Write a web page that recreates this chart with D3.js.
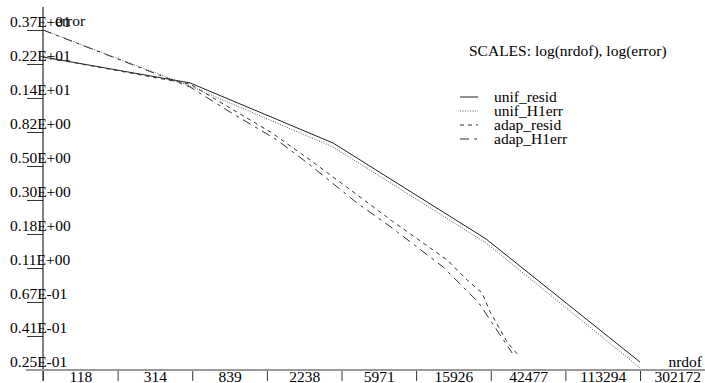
<!DOCTYPE html>
<html lang="en">
<meta charset="utf-8">
<title>log(nrdof) vs log(error)</title>
<style>
  body { margin: 0; background: #fff; }
</style>
<body>
<div id="chart"></div>
<script src="https://cdn.jsdelivr.net/npm/d3@7"></script>
<script>
// x tick labels (nrdof) and y tick labels (error), as printed
var xLabels = ["118", "314", "839", "2238", "5971", "15926", "42477", "113294", "302172"];
var yLabels = ["0.37E+01", "0.22E+01", "0.14E+01", "0.82E+00", "0.50E+00", "0.30E+00",
               "0.18E+00", "0.11E+00", "0.67E-01", "0.41E-01", "0.25E-01"];

// uniform refinements
var unifDof   = [118, 815, 5344, 39950, 302172];
var unifResid = [2.49, 1.70, 0.703, 0.1715, 0.0281];
var unifH1err = [3.70, 1.625, 0.663, 0.1617, 0.0258];

// adaptive refinements
var adapResidDof = [118, 815, 1380, 2397, 3950, 7623, 11612, 23930, 31140, 37920, 42130, 52680, 60870];
var adapResid    = [2.49, 1.673, 1.176, 0.814, 0.5476, 0.318, 0.2234, 0.126, 0.0939, 0.0775, 0.0587, 0.0377, 0.0312];
var adapH1Dof    = [118, 815, 1380, 2560, 3950, 7328, 11612, 22700, 29540, 35980, 41040, 46800, 56260];
var adapH1err    = [3.70, 1.601, 1.108, 0.7346, 0.5088, 0.2911, 0.2016, 0.1137, 0.0847, 0.0679, 0.0545, 0.0437, 0.0321];

var series = [
  { name: "unif_resid", dof: unifDof, err: unifResid, dash: null, color: "#222" },
  { name: "unif_H1err", dof: unifDof, err: unifH1err, dash: "1,1.5", color: "#555" },
  { name: "adap_resid", dof: adapResidDof, err: adapResid, dash: "4,4", color: "#333" },
  { name: "adap_H1err", dof: adapH1Dof, err: adapH1err, dash: "9,5,3,5", color: "#333" }
];

var FONT = "'Liberation Serif', 'Times New Roman', Times, 'DejaVu Serif', serif";
var FS = 15.5;
var W = 705, H = 383;
var svg = d3.select("#chart").append("svg").attr("width", W).attr("height", H)
  .style("font-family", FONT).style("font-size", FS + "px");

var xMin = +xLabels[0], xMax = +xLabels[xLabels.length - 1];
var yMax = 3.7, yMin = 0.025;
var x = d3.scaleLog().domain([xMin, xMax]).range([43, 640]);
var y = d3.scaleLog().domain([yMin, yMax]).range([370, 30]);

// evenly spaced (in log) tick positions, one per printed label
var xTicks = xLabels.map(function(d, i) { return xMin * Math.pow(xMax / xMin, i / (xLabels.length - 1)); });
var yTicks = yLabels.map(function(d, i) { return yMax * Math.pow(yMin / yMax, i / (yLabels.length - 1)); });

// y axis
var yAxis = svg.append("g").attr("transform", "translate(43,0)")
  .call(d3.axisLeft(y).tickValues(yTicks).tickSize(16).tickFormat(function(d, i) { return yLabels[i]; }));
yAxis.attr("font-family", FONT).attr("font-size", FS);
yAxis.select(".domain").remove();
yAxis.selectAll(".tick line").attr("stroke", "#333");
yAxis.selectAll(".tick text").attr("x", -33).attr("dy", -4).attr("text-anchor", "start").attr("fill", "#000");
svg.append("line").attr("x1", 43).attr("x2", 43).attr("y1", 7).attr("y2", 381).attr("stroke", "#000");

// x axis
var xAxis = svg.append("g").attr("transform", "translate(0,370)")
  .call(d3.axisBottom(x).tickValues(xTicks).tickSize(11).tickFormat(function(d, i) { return xLabels[i]; }));
xAxis.attr("font-family", FONT).attr("font-size", FS);
xAxis.select(".domain").remove();
xAxis.selectAll(".tick line").attr("stroke", "#333");
xAxis.selectAll(".tick text").attr("y", 0).attr("dy", 11.5).attr("fill", "#000")
  .attr("x", function(d, i) {
    var x0 = x(d), x1 = i < xTicks.length - 1 ? x(xTicks[i + 1]) : x0 + (x(xTicks[1]) - x(xTicks[0]));
    return (x0 + x1) / 2 - x0;
  });
svg.append("line").attr("x1", 26).attr("x2", W).attr("y1", 370).attr("y2", 370)
  .attr("stroke", "#999").attr("stroke-width", 2);

// axis titles
svg.append("text").attr("x", 55).attr("y", 26).text("error");
svg.append("text").attr("x", 702).attr("y", 367).attr("text-anchor", "end").text("nrdof");
svg.append("text").attr("x", 469).attr("y", 56).text("SCALES: log(nrdof), log(error)");

// curves
var line = d3.line().x(function(d) { return x(d[0]); }).y(function(d) { return y(d[1]); });
series.forEach(function(s) {
  svg.append("path")
    .datum(d3.zip(s.dof, s.err))
    .attr("d", line)
    .attr("fill", "none")
    .attr("stroke", s.color)
    .attr("stroke-width", 1)
    .attr("stroke-dasharray", s.dash);
});

// legend
var legend = svg.append("g").selectAll("g").data(series).join("g")
  .attr("transform", function(d, i) { return "translate(0," + (97 + i * 14) + ")"; });
legend.append("line").attr("x1", 460).attr("x2", 478)
  .attr("stroke", function(d) { return d.color; })
  .attr("stroke-dasharray", function(d) { return d.dash; });
legend.append("text").attr("x", 494).attr("y", 4.5).text(function(d) { return d.name; });
</script>
</body>
</html>
